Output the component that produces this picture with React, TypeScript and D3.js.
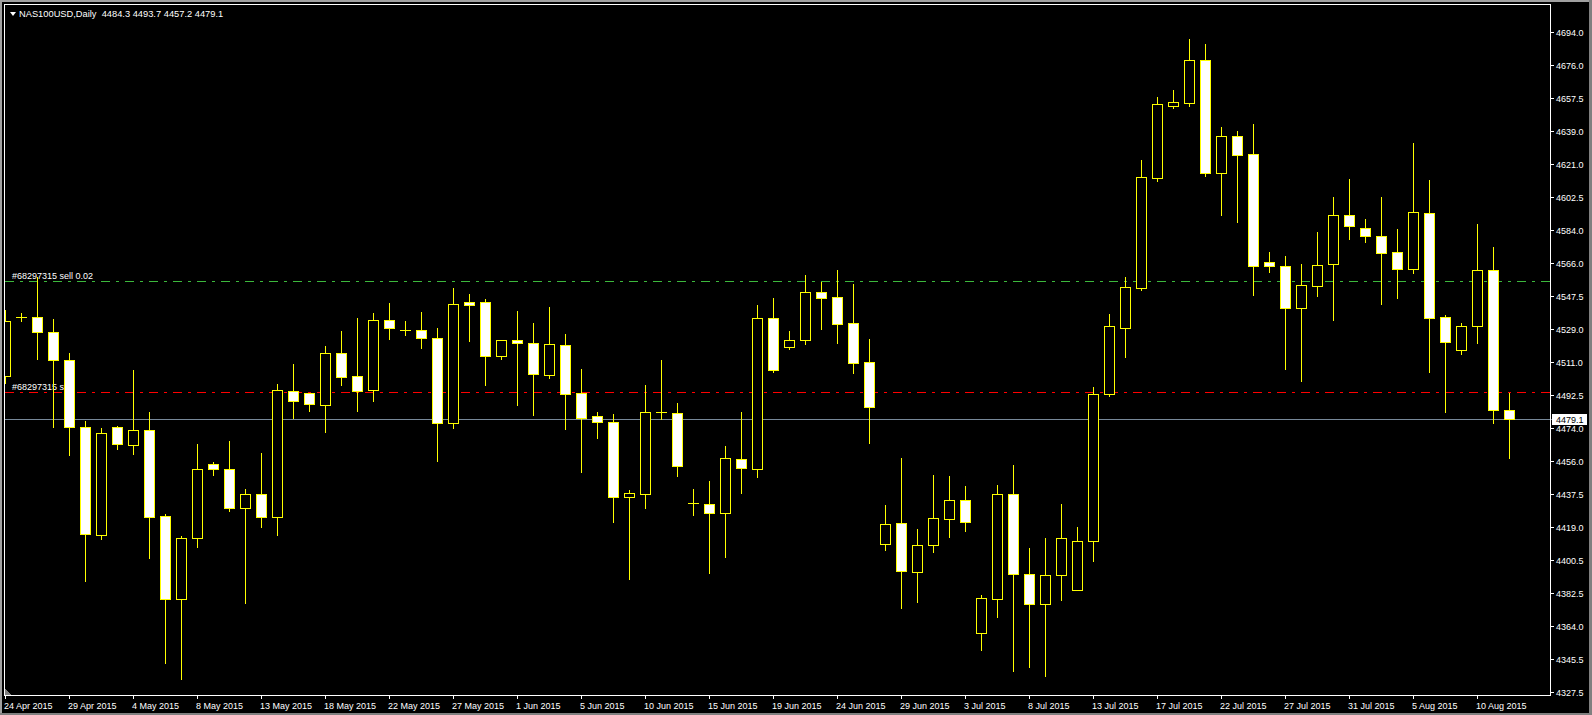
import React, { useEffect } from "react";
import * as d3 from "d3";

// daily bars, NAS100USD (Sunday sessions included)
const dates = [
  "2015-04-24", "2015-04-26", "2015-04-27", "2015-04-28", "2015-04-29", "2015-04-30", "2015-05-01", "2015-05-03",
  "2015-05-04", "2015-05-05", "2015-05-06", "2015-05-07", "2015-05-08", "2015-05-10", "2015-05-11", "2015-05-12",
  "2015-05-13", "2015-05-14", "2015-05-15", "2015-05-17", "2015-05-18", "2015-05-19", "2015-05-20", "2015-05-21",
  "2015-05-22", "2015-05-24", "2015-05-25", "2015-05-26", "2015-05-27", "2015-05-28", "2015-05-29", "2015-05-31",
  "2015-06-01", "2015-06-02", "2015-06-03", "2015-06-04", "2015-06-05", "2015-06-07", "2015-06-08", "2015-06-09",
  "2015-06-10", "2015-06-11", "2015-06-12", "2015-06-14", "2015-06-15", "2015-06-16", "2015-06-17", "2015-06-18",
  "2015-06-19", "2015-06-21", "2015-06-22", "2015-06-23", "2015-06-24", "2015-06-25", "2015-06-26", "2015-06-28",
  "2015-06-29", "2015-06-30", "2015-07-01", "2015-07-02", "2015-07-03", "2015-07-05", "2015-07-06", "2015-07-07",
  "2015-07-08", "2015-07-09", "2015-07-10", "2015-07-12", "2015-07-13", "2015-07-14", "2015-07-15", "2015-07-16",
  "2015-07-17", "2015-07-19", "2015-07-20", "2015-07-21", "2015-07-22", "2015-07-23", "2015-07-24", "2015-07-26",
  "2015-07-27", "2015-07-28", "2015-07-29", "2015-07-30", "2015-07-31", "2015-08-02", "2015-08-03", "2015-08-04",
  "2015-08-05", "2015-08-06", "2015-08-07", "2015-08-09", "2015-08-10", "2015-08-11", "2015-08-12",
];

const opens = [
  4503.1, 4535.8, 4535.6, 4527.3, 4511.9, 4474.5, 4414.8, 4474.5, 4464.5, 4472.8, 4425.0, 4379.2, 4412.8, 4453.9, 4451.1, 4429.8,
  4437.2, 4424.8, 4494.5, 4493.4, 4487.0, 4515.6, 4502.8, 4495.0, 4533.9, 4528.8, 4528.4, 4523.9, 4477.0, 4543.9, 4543.9, 4514.3,
  4522.8, 4521.1, 4503.7, 4520.0, 4493.4, 4480.6, 4477.2, 4435.9, 4437.6, 4482.8, 4482.6, 4432.2, 4432.0, 4426.7, 4457.0, 4451.1,
  4535.0, 4518.9, 4523.1, 4549.5, 4546.7, 4532.3, 4510.6, 4409.8, 4421.1, 4394.2, 4409.2, 4423.7, 4433.9, 4360.3, 4379.2, 4437.2,
  4392.8, 4376.1, 4392.1, 4384.2, 4411.0, 4492.7, 4529.9, 4552.0, 4613.2, 4652.8, 4654.9, 4678.5, 4616.0, 4636.2, 4626.2, 4566.2,
  4563.9, 4540.6, 4553.2, 4565.1, 4592.3, 4585.1, 4580.6, 4571.7, 4562.3, 4593.4, 4535.6, 4517.3, 4530.6, 4561.7, 4484.3,
];
const highs = [
  4539.7, 4538.0, 4558.2, 4534.7, 4515.6, 4478.0, 4473.9, 4475.2, 4506.3, 4483.0, 4426.1, 4414.0, 4465.2, 4455.0, 4466.7, 4440.0,
  4460.0, 4498.4, 4509.5, 4493.6, 4519.6, 4528.0, 4535.2, 4538.0, 4543.5, 4533.5, 4538.5, 4529.6, 4551.9, 4548.5, 4545.8, 4522.9,
  4539.1, 4532.4, 4541.3, 4526.3, 4506.9, 4483.0, 4481.9, 4439.4, 4497.8, 4511.7, 4487.8, 4440.0, 4444.4, 4464.1, 4482.8, 4542.3,
  4546.2, 4528.0, 4559.1, 4555.4, 4561.9, 4554.1, 4523.5, 4431.3, 4457.4, 4417.9, 4448.0, 4447.4, 4441.8, 4381.3, 4442.4, 4453.5,
  4407.4, 4412.9, 4431.8, 4419.0, 4496.9, 4537.5, 4557.9, 4623.0, 4658.1, 4661.9, 4690.2, 4687.4, 4641.3, 4639.1, 4643.0, 4571.9,
  4569.7, 4565.2, 4583.0, 4602.5, 4612.5, 4590.2, 4602.5, 4584.7, 4632.5, 4611.9, 4536.7, 4532.3, 4587.5, 4574.7, 4493.7,
];
const lows = [
  4499.1, 4533.7, 4512.4, 4474.8, 4459.1, 4389.2, 4412.5, 4462.4, 4459.8, 4402.0, 4343.6, 4334.7, 4408.1, 4448.1, 4428.1, 4376.6,
  4419.2, 4414.6, 4479.8, 4483.7, 4471.8, 4498.1, 4483.7, 4489.2, 4523.5, 4525.9, 4518.7, 4455.9, 4474.2, 4522.6, 4498.1, 4512.6,
  4487.0, 4481.5, 4502.0, 4473.7, 4449.8, 4468.7, 4422.0, 4390.0, 4429.8, 4479.2, 4447.6, 4425.9, 4393.6, 4402.5, 4438.1, 4447.0,
  4505.4, 4518.1, 4520.9, 4529.3, 4521.5, 4504.8, 4465.9, 4406.4, 4374.2, 4377.5, 4405.3, 4413.7, 4417.0, 4350.9, 4369.2, 4339.2,
  4341.4, 4336.4, 4378.7, 4383.8, 4400.4, 4491.6, 4513.5, 4550.9, 4611.5, 4652.2, 4652.8, 4614.3, 4592.6, 4588.3, 4548.2, 4560.8,
  4507.0, 4500.4, 4547.6, 4534.3, 4579.3, 4577.6, 4543.2, 4546.5, 4560.4, 4505.4, 4483.1, 4515.4, 4521.5, 4477.0, 4457.2,
];
const closes = [
  4533.5, 4536.0, 4527.3, 4511.7, 4474.8, 4415.3, 4471.1, 4465.0, 4472.8, 4424.8, 4379.2, 4412.8, 4451.1, 4451.1, 4429.8, 4437.2,
  4424.8, 4495.0, 4489.2, 4487.2, 4515.6, 4502.6, 4494.8, 4533.9, 4529.8, 4528.6, 4524.3, 4477.0, 4542.8, 4542.6, 4514.3, 4522.8,
  4521.5, 4504.3, 4520.6, 4493.1, 4479.8, 4477.2, 4435.9, 4437.8, 4482.8, 4482.9, 4453.1, 4432.3, 4426.7, 4457.2, 4451.7, 4535.0,
  4506.1, 4523.1, 4549.5, 4546.5, 4531.6, 4510.4, 4485.6, 4420.5, 4394.8, 4408.9, 4423.9, 4433.9, 4422.0, 4379.4, 4437.2, 4392.8,
  4376.1, 4392.2, 4412.9, 4411.3, 4492.9, 4530.5, 4552.2, 4613.4, 4654.0, 4655.1, 4678.5, 4615.6, 4636.2, 4626.0, 4564.3, 4563.9,
  4540.6, 4553.4, 4564.5, 4592.3, 4586.2, 4580.6, 4571.2, 4562.3, 4594.0, 4535.0, 4521.7, 4530.6, 4561.7, 4484.3, 4479.1,
];

const priceTicks = [
  "4694.0", "4676.0", "4657.5", "4639.0", "4621.0", "4602.5", "4584.0", "4566.0", "4547.5", "4529.0", "4511.0",
  "4492.5", "4474.0", "4456.0", "4437.5", "4419.0", "4400.5", "4382.5", "4364.0", "4345.5", "4327.5",
];

const timeTicks = [
  "2015-04-24", "2015-04-29", "2015-05-04", "2015-05-08", "2015-05-13", "2015-05-18", "2015-05-22", "2015-05-27",
  "2015-06-01", "2015-06-05", "2015-06-10", "2015-06-15", "2015-06-19", "2015-06-24", "2015-06-29", "2015-07-03",
  "2015-07-08", "2015-07-13", "2015-07-17", "2015-07-22", "2015-07-27", "2015-07-31", "2015-08-05", "2015-08-10",
];

// open order #68297315 (sell 0.02) and its stop level
const orderTicket = "#68297315";
const orderOpen = 4555.6;
const orderStop = 4493.9;

const W = 1592;
const H = 715;
const FONT = "'Liberation Sans', Arial, sans-serif";
const LEFT = 5;
const RIGHT = 1550;
const TOP = 5;
const BOTTOM = 695;

const App: React.FC = () => {
  useEffect(() => {
    document.body.style.margin = "0";
    document.body.style.background = "#000";
  }, []);

  const x = d3.scalePoint<string>().domain(dates).range([5, 1509]);
  const y = d3.scaleLinear().domain([4327.5, 4694.0]).range([691.7, 32.3]);
  const px = (v: number) => Math.round(v) + 0.5;

  const parse = d3.timeParse("%Y-%m-%d");
  const fmt = d3.timeFormat("%-d %b %Y");
  const last = dates.length - 1;
  const bid = closes[last];

  const candles = dates.map((d, i) => {
    const cx = Math.round(x(d) as number);
    const o = opens[i];
    const c = closes[i];
    const bear = c < o;
    const top = Math.round(y(Math.max(o, c)));
    const bot = Math.round(y(Math.min(o, c)));
    const hi = Math.round(y(highs[i]));
    const lo = Math.round(y(lows[i]));
    return (
      <g key={d}>
        <line x1={cx + 0.5} x2={cx + 0.5} y1={hi} y2={lo + 1} stroke="#ffff00" strokeWidth={1} />
        {bot - top < 1 ? (
          <line x1={cx - 5} x2={cx + 6} y1={top + 0.5} y2={top + 0.5} stroke="#ffff00" strokeWidth={1} />
        ) : (
          <rect
            x={cx - 4.5}
            y={top + 0.5}
            width={10}
            height={bot - top}
            fill={bear ? "#ffffff" : "#000000"}
            stroke="#ffff00"
            strokeWidth={1}
          />
        )}
      </g>
    );
  });

  const yOpen = px(y(orderOpen));
  const yStop = px(y(orderStop));
  const yBid = px(y(bid));

  return (
    <svg width={W} height={H} style={{ display: "block", background: "#000" }} shapeRendering="crispEdges">
      <defs>
        <clipPath id="plot">
          <rect x={LEFT} y={TOP} width={RIGHT - LEFT} height={BOTTOM - TOP} />
        </clipPath>
      </defs>
      <rect x={0} y={0} width={W} height={H} fill="#000" />

      {/* window border */}
      <rect x={0} y={0} width={W} height={2} fill="#a0a0a0" />
      <rect x={0} y={0} width={2} height={H} fill="#a0a0a0" />
      <rect x={W - 3} y={0} width={3} height={H} fill="#808080" />
      <rect x={0} y={H - 2} width={W} height={2} fill="#808080" />

      <g clipPath="url(#plot)">
        {/* order lines */}
        <line x1={LEFT} x2={RIGHT} y1={yOpen} y2={yOpen} stroke="#3cb83c" strokeDasharray="9,6,3,6" />
        <line x1={LEFT} x2={RIGHT} y1={yStop} y2={yStop} stroke="#ff0000" strokeDasharray="9,6,3,6" />
        <line x1={LEFT} x2={RIGHT + 3} y1={yBid} y2={yBid} stroke="#778899" />
        <text x={12} y={yOpen - 3} fill="#fff" fontFamily={FONT} fontSize={9} shapeRendering="auto">
          {`${orderTicket} sell 0.02`}
        </text>
        <text x={12} y={yStop - 3} fill="#fff" fontFamily={FONT} fontSize={9} shapeRendering="auto">
          {`${orderTicket} sl`}
        </text>
        {candles}
      </g>

      {/* chart frame */}
      <rect x={LEFT - 0.5} y={TOP - 0.5} width={RIGHT - LEFT + 1} height={BOTTOM - TOP + 1} fill="none" stroke="#fff" />
      <line x1={RIGHT + 0.5} x2={RIGHT + 3} y1={yBid} y2={yBid} stroke="#778899" />

      {/* header */}
      <polygon points="10,12 16,12 13,16" fill="#fff" shapeRendering="auto" />
      <text x={19} y={16.5} fill="#fff" fontFamily={FONT} fontSize={9.3} style={{ whiteSpace: "pre" }}>
        {`NAS100USD,Daily  ${opens[last].toFixed(1)} ${highs[last].toFixed(1)} ${lows[last].toFixed(1)} ${bid.toFixed(1)}`}
      </text>

      {/* price axis */}
      {priceTicks.map((t) => {
        const ty = px(y(+t));
        return (
          <g key={t}>
            <line x1={RIGHT + 0.5} x2={RIGHT + 3.5} y1={ty} y2={ty} stroke="#fff" />
            <text x={1556} y={ty + 3.3} fill="#fff" fontFamily={FONT} fontSize={9}>
              {t}
            </text>
          </g>
        );
      })}
      <rect x={1552} y={yBid - 6} width={35} height={11} fill="#fff" />
      <text x={1556} y={yBid + 3.3} fill="#000" fontFamily={FONT} fontSize={9}>
        {bid.toFixed(1)}
      </text>

      {/* time axis */}
      {timeTicks.map((t) => {
        const tx = px(x(t) as number);
        return (
          <g key={t}>
            <line x1={tx} x2={tx} y1={BOTTOM} y2={BOTTOM + 4} stroke="#fff" />
            <text x={tx - 1.5} y={708.5} fill="#fff" fontFamily={FONT} fontSize={9}>
              {fmt(parse(t) as Date)}
            </text>
          </g>
        );
      })}
      <polygon points={`${LEFT},688 ${LEFT},${BOTTOM} ${LEFT + 6},${BOTTOM}`} fill="#808080" />
    </svg>
  );
};

export default App;
